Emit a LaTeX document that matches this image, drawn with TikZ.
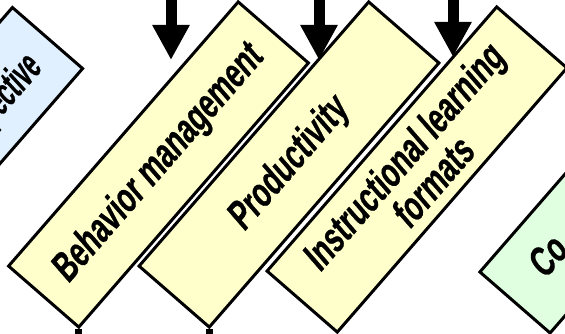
\documentclass[tikz,border=0pt]{standalone}
\usepackage{fontspec}
\newfontfamily\narrowfont{Liberation Sans}[FakeStretch=0.68,FakeSlant=0.14,FakeBold=0.6]
\usetikzlibrary{arrows.meta}
\definecolor{boxyellow}{HTML}{FFFFCC}
\definecolor{boxblue}{HTML}{E0F0FF}
\definecolor{boxgreen}{HTML}{E0FFE0}
\tikzset{
  slab/.style={draw=black, line width=3pt, minimum width=350pt, minimum height=93pt,
    rotate=49, inner sep=0pt, align=center, line join=miter,
    font=\narrowfont\bfseries\fontsize{41}{38}\selectfont},
  lbl/.style={rotate=49, inner sep=0pt,
    font=\narrowfont\bfseries\fontsize{41}{38}\selectfont},
  bigarrow/.style={line width=11pt, -{Triangle[width=35pt,length=35pt]}},
  stub/.style={line width=7pt}
}
\begin{document}
\begin{tikzpicture}[x=1pt,y=-1pt]
\useasboundingbox (0,0) rectangle (565,334);
\clip (0,0) rectangle (565,334);
% boxes
\node[slab, fill=boxblue] (persp) at (-67.3,170.1) {};
\node[lbl, anchor=base east] (persptxt) at (43,69) {\scalebox{0.8}[1]{pective}};
\node[slab, fill=boxyellow] (beh) at (158.5,164.5) {Behavior management};
\node[slab, fill=boxyellow] (prod) at (289,164.5) {Productivity};
\node[slab, fill=boxyellow] (instr) at (417,169.5) {Instructional learning\\formats};
\node[slab, fill=boxgreen] (cont) at (629.8,170.4) {};
\node[lbl, anchor=base west] (conttxt) at (545,280) {Co};
% arrows from above
\coordinate (t1) at (171,-10); \coordinate (a1) at (171,60);
\coordinate (t2) at (319,-10); \coordinate (a2) at (319,60);
\coordinate (t3) at (453,-10); \coordinate (a3) at (453,57);
\draw[bigarrow] (t1) -- (a1);
\draw[bigarrow] (t2) -- (a2);
\draw[bigarrow] (t3) -- (a3);
% stubs below
\coordinate (low) at (0,345);
\draw[stub] (beh.south west) -- (beh.south west |- low);
\draw[stub] (prod.south west) -- (prod.south west |- low);
\end{tikzpicture}
\end{document}
